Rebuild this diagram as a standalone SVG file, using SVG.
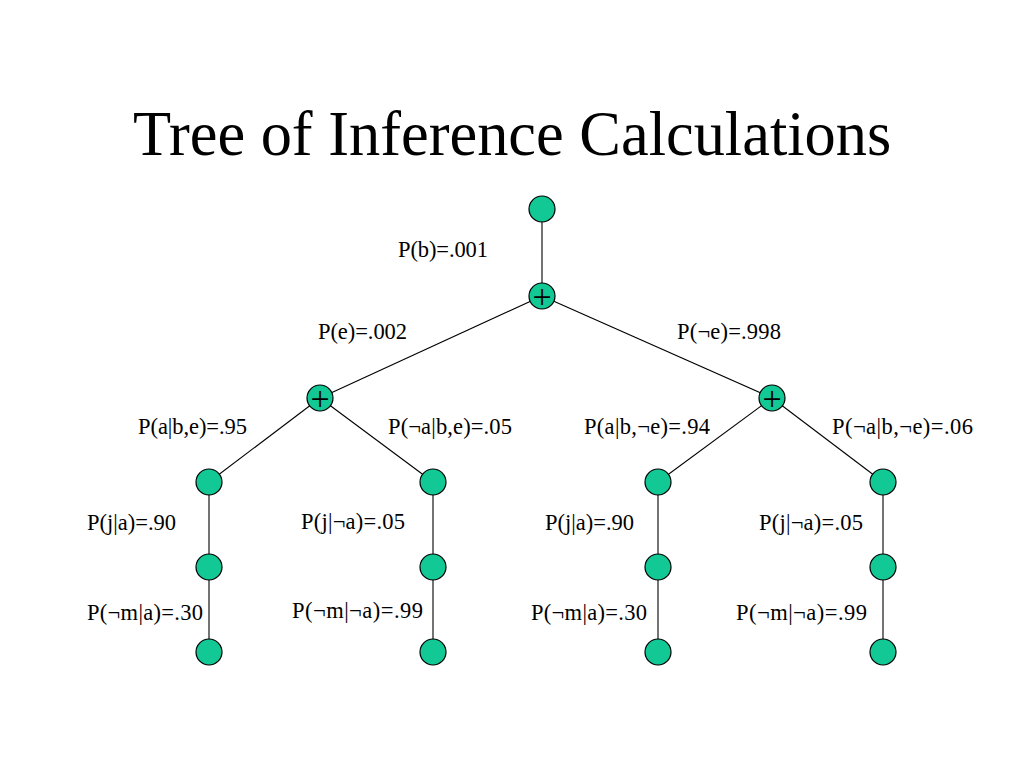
<svg xmlns="http://www.w3.org/2000/svg" width="1024" height="768" viewBox="0 0 1024 768">
<style>
.n{fill:#12C995;stroke:#000;stroke-width:1.2}
.e{stroke:#000;stroke-width:1.1;fill:none}
.t{font-family:"Liberation Serif","Times New Roman",serif;font-size:22.5px;fill:#000}
.p{font-family:"Liberation Serif","Times New Roman",serif;font-size:34px;fill:#000;text-anchor:middle}
.title{font-family:"Liberation Serif","Times New Roman",serif;font-size:62.4px;fill:#000}
</style>
<rect width="1024" height="768" fill="#fff"/>
<text class="title" x="133" y="155">Tree of Inference Calculations</text>
<g id="connectors">
<line class="e" x1="542" y1="209" x2="542" y2="296"/>
<line class="e" x1="542" y1="296" x2="320" y2="398"/>
<line class="e" x1="542" y1="296" x2="772" y2="398"/>
<line class="e" x1="320" y1="398" x2="209" y2="482"/>
<line class="e" x1="320" y1="398" x2="433" y2="482"/>
<line class="e" x1="772" y1="398" x2="658" y2="482"/>
<line class="e" x1="772" y1="398" x2="883" y2="482"/>
<line class="e" x1="209" y1="482" x2="209" y2="652"/>
<line class="e" x1="433" y1="482" x2="433" y2="652"/>
<line class="e" x1="658" y1="482" x2="658" y2="652"/>
<line class="e" x1="883" y1="482" x2="883" y2="652"/>
</g>
<g id="root"><circle class="n" cx="542" cy="209" r="13"/></g>
<g id="sum1"><circle class="n" cx="542" cy="296" r="13"/><text class="p" x="542" y="308">+</text></g>
<g id="sum2"><circle class="n" cx="320" cy="398" r="13"/><text class="p" x="320" y="410">+</text></g>
<g id="sum3"><circle class="n" cx="772" cy="398" r="13"/><text class="p" x="772" y="410">+</text></g>
<g id="n1a"><circle class="n" cx="209" cy="482" r="13"/></g>
<g id="n1b"><circle class="n" cx="209" cy="567" r="13"/></g>
<g id="n1c"><circle class="n" cx="209" cy="652" r="13"/></g>
<g id="n2a"><circle class="n" cx="433" cy="482" r="13"/></g>
<g id="n2b"><circle class="n" cx="433" cy="567" r="13"/></g>
<g id="n2c"><circle class="n" cx="433" cy="652" r="13"/></g>
<g id="n3a"><circle class="n" cx="658" cy="482" r="13"/></g>
<g id="n3b"><circle class="n" cx="658" cy="567" r="13"/></g>
<g id="n3c"><circle class="n" cx="658" cy="652" r="13"/></g>
<g id="n4a"><circle class="n" cx="883" cy="482" r="13"/></g>
<g id="n4b"><circle class="n" cx="883" cy="567" r="13"/></g>
<g id="n4c"><circle class="n" cx="883" cy="652" r="13"/></g>
<g id="labels">
<text class="t" x="398" y="257" textLength="90" lengthAdjust="spacing">P(b)=.001</text>
<text class="t" x="318" y="339" textLength="89" lengthAdjust="spacing">P(e)=.002</text>
<text class="t" x="677" y="339" textLength="104" lengthAdjust="spacing">P(¬e)=.998</text>
<text class="t" x="138" y="434" textLength="109" lengthAdjust="spacing">P(a|b,e)=.95</text>
<text class="t" x="388" y="434" textLength="124" lengthAdjust="spacing">P(¬a|b,e)=.05</text>
<text class="t" x="584" y="434" textLength="126" lengthAdjust="spacing">P(a|b,¬e)=.94</text>
<text class="t" x="832" y="434" textLength="141" lengthAdjust="spacing">P(¬a|b,¬e)=.06</text>
<text class="t" x="87" y="530" textLength="89" lengthAdjust="spacing">P(j|a)=.90</text>
<text class="t" x="301" y="529" textLength="104" lengthAdjust="spacing">P(j|¬a)=.05</text>
<text class="t" x="545" y="530" textLength="89" lengthAdjust="spacing">P(j|a)=.90</text>
<text class="t" x="759" y="530" textLength="104" lengthAdjust="spacing">P(j|¬a)=.05</text>
<text class="t" x="87" y="620" textLength="116" lengthAdjust="spacing">P(¬m|a)=.30</text>
<text class="t" x="292" y="618" textLength="131" lengthAdjust="spacing">P(¬m|¬a)=.99</text>
<text class="t" x="531" y="620" textLength="116" lengthAdjust="spacing">P(¬m|a)=.30</text>
<text class="t" x="736" y="620" textLength="131" lengthAdjust="spacing">P(¬m|¬a)=.99</text>
</g>
</svg>
